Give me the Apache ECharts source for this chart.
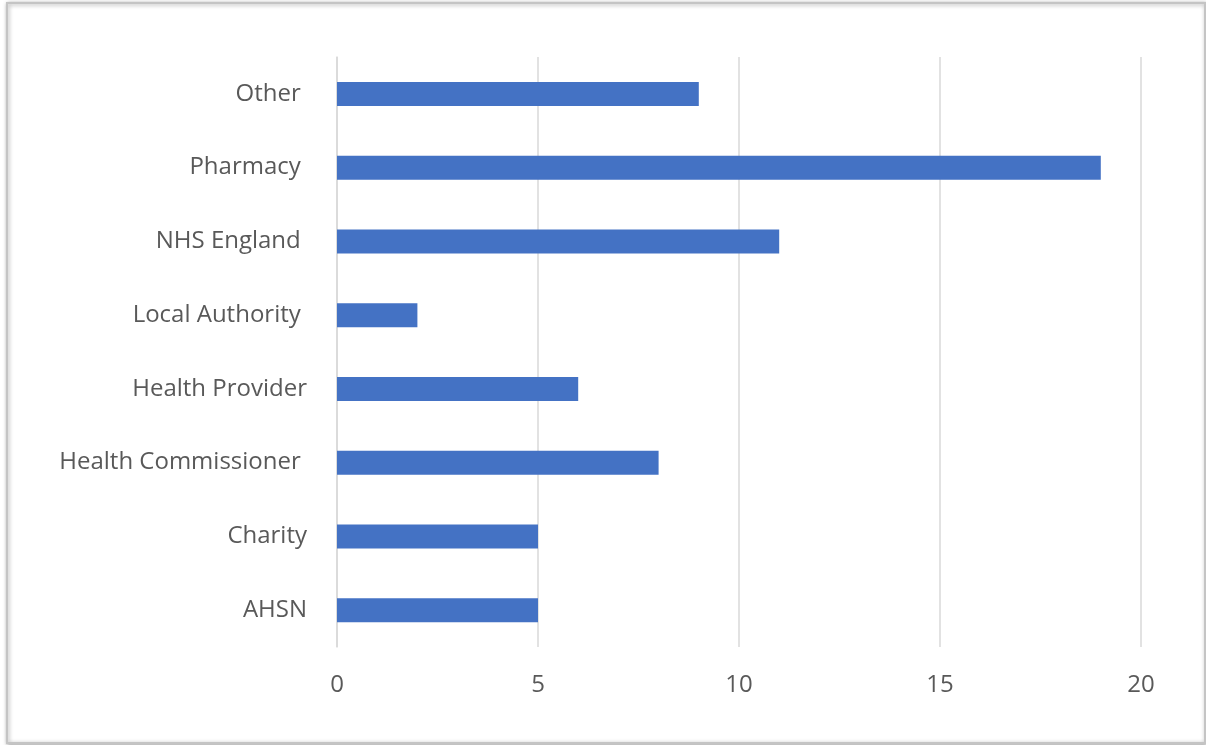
<!DOCTYPE html>
<html><head><meta charset="utf-8">
<script src="https://cdn.jsdelivr.net/npm/echarts@6/dist/echarts.min.js"></script>
<style>html,body{margin:0;padding:0;background:#fff}#c{width:1206px;height:745px}</style>
</head><body><div id="c"></div>
<script>
const categories = ['AHSN', 'Charity', 'Health Commissioner ', 'Health Provider', 'Local Authority ', 'NHS England ', 'Pharmacy ', 'Other '];
const values = [5, 5, 8, 6, 2, 11, 19, 9];
const xTicks = [0, 5, 10, 15, 20];

const chart = echarts.init(document.getElementById('c'));
chart.setOption({
  animation: false,
  graphic: [{
    type: 'rect', left: 6, top: 2, z: -10,
    shape: { width: 1198, height: 740 },
    style: { fill: '#fff', stroke: '#c4c4c4', lineWidth: 2, shadowBlur: 4, shadowColor: 'rgba(0,0,0,0.35)', shadowOffsetX: 1, shadowOffsetY: 1 }
  }],
  grid: { left: 337, right: 65, top: 57, bottom: 98 },
  xAxis: {
    type: 'value', min: xTicks[0], max: xTicks[xTicks.length - 1], interval: 5,
    axisLine: { show: false }, axisTick: { show: false },
    splitLine: { lineStyle: { color: '#d9d9d9', width: 1.5 } },
    axisLabel: { color: '#595959', fontSize: 24, fontFamily: 'Open Sans', margin: 26 }
  },
  yAxis: {
    type: 'category', data: categories,
    axisLine: { show: true, lineStyle: { color: '#d9d9d9', width: 1.5 } },
    axisTick: { show: false },
    axisLabel: { color: '#595959', fontSize: 24, fontFamily: 'Open Sans', margin: 30 }
  },
  series: [{
    type: 'bar', data: values, barWidth: 24,
    itemStyle: { color: '#4472C4' }
  }]
});
</script></body></html>
